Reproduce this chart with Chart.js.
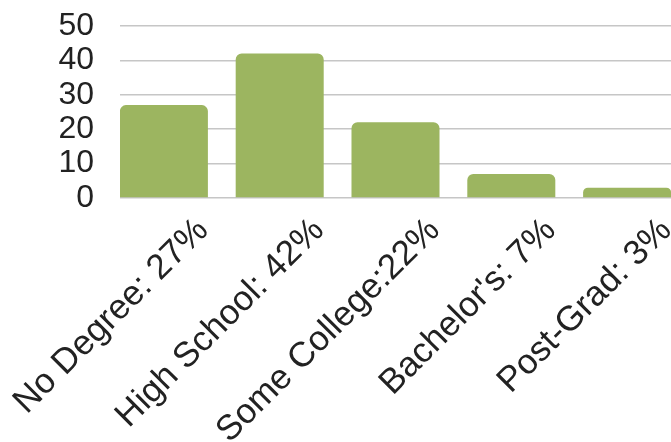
<!DOCTYPE html>
<html>
<head>
<meta charset="utf-8">
<script src="https://cdn.jsdelivr.net/npm/chart.js@4/dist/chart.umd.min.js"></script>
<style>
  html, body { margin: 0; padding: 0; background: #fff; overflow: hidden; }
  #wrap { width: 671px; height: 442px; }
</style>
</head>
<body>
<div id="wrap"><canvas id="c" width="671" height="442"></canvas></div>
<script>
const categories = ["No Degree: 27%", "High School: 42%", "Some College:22%", "Bachelor's: 7%", "Post-Grad: 3%"];
const values = [27, 42, 22, 7, 3];
const yTicks = [0, 10, 20, 30, 40, 50];

const points = values.map((v, i) => ({ x: i, y: v }));
const FONT = "'Liberation Sans', Arial, sans-serif";

new Chart(document.getElementById('c'), {
  type: 'bar',
  data: {
    datasets: [{
      data: points,
      backgroundColor: '#9cb560',
      borderWidth: 0,
      borderRadius: 6,
      borderSkipped: 'start',
      barPercentage: 0.76,
      categoryPercentage: 1.0
    }]
  },
  options: {
    responsive: false,
    devicePixelRatio: 1,
    animation: false,
    layout: { padding: { top: 26, left: 0, right: 0, bottom: 0 } },
    plugins: { legend: { display: false }, tooltip: { enabled: false } },
    scales: {
      x: {
        type: 'linear',
        offset: false,
        min: -0.379,
        max: 4.379,
        grid: { display: false, drawTicks: false, offset: false },
        border: { display: false },
        afterBuildTicks: s => { s.ticks = categories.map((_, i) => ({ value: i })); },
        afterFit: s => { s.height = 244; s.paddingLeft = 0; s.paddingRight = 0; },
        ticks: {
          autoSkip: false,
          minRotation: 45,
          maxRotation: 45,
          padding: 12,
          labelOffset: 39,
          color: '#222',
          font: { family: FONT, size: 35 },
          callback: v => categories[v]
        }
      },
      y: {
        min: 0,
        max: 50,
        grid: { color: '#c6c6c6', lineWidth: 1.5, drawTicks: false },
        border: { display: false },
        afterBuildTicks: s => { s.ticks = yTicks.map(v => ({ value: v })); },
        afterFit: s => { s.width = 120; s.paddingTop = 0; s.paddingBottom = 0; },
        ticks: {
          autoSkip: false,
          padding: 26,
          color: '#222',
          font: { family: FONT, size: 32 }
        }
      }
    }
  }
});
</script>
</body>
</html>
